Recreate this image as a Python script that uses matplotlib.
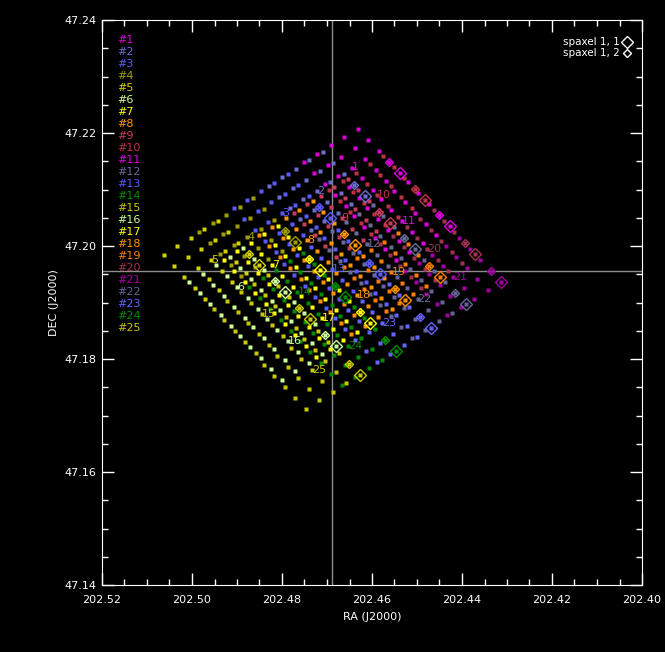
import matplotlib
matplotlib.use('Agg')
import matplotlib.pyplot as plt
from matplotlib.ticker import MultipleLocator, FormatStrFormatter
import numpy as np

# spaxel 1,1 position of each raster pointing #1..#25
ra11 = [202.4538, 202.4616, 202.4694, 202.4771, 202.4850,
        202.4793, 202.4716, 202.4638, 202.4561, 202.4482,
        202.4427, 202.4505, 202.4583, 202.4659, 202.4738,
        202.4681, 202.4604, 202.4526, 202.4450, 202.4370,
        202.4313, 202.4392, 202.4470, 202.4547, 202.4627]
dec11 = [47.2130, 47.2089, 47.2049, 47.2007, 47.1967,
         47.1918, 47.1958, 47.2001, 47.2041, 47.2082,
         47.2035, 47.1994, 47.1951, 47.1910, 47.1870,
         47.1823, 47.1863, 47.1904, 47.1945, 47.1985,
         47.1937, 47.1897, 47.1854, 47.1814, 47.1772]

# 5x5 spaxel footprint, offsets from spaxel 1,1 (deg), rows = spaxel i, cols = spaxel j
spax_dra = [[0.00000, 0.00233, 0.00467, 0.00700, 0.00933],
            [0.00300, 0.00533, 0.00767, 0.01000, 0.01233],
            [0.00600, 0.00833, 0.01067, 0.01300, 0.01533],
            [0.00900, 0.01133, 0.01367, 0.01600, 0.01833],
            [0.01200, 0.01433, 0.01667, 0.01900, 0.02133]]
spax_ddec = [[0.00000, 0.00195, 0.00389, 0.00584, 0.00779],
             [-0.00150, 0.00045, 0.00239, 0.00434, 0.00629],
             [-0.00300, -0.00105, 0.00089, 0.00284, 0.00479],
             [-0.00450, -0.00255, -0.00061, 0.00134, 0.00329],
             [-0.00600, -0.00405, -0.00211, -0.00016, 0.00179]]

colors = ['#dd00dd', '#6e6ed2', '#5a5aff', '#a0a000', '#d2d200',
          '#d2ff96', '#ffff00', '#ff9600', '#c83c5a', '#be3246',
          '#e100e1', '#6a6a9a', '#5a5aff', '#008c00', '#c8c800',
          '#c8ff96', '#ffff00', '#ff9000', '#ff7d00', '#a03250',
          '#a000a0', '#64649a', '#6464ff', '#008c00', '#c8c800']

ra_cross = 202.4689
dec_cross = 47.1955

W, H = 665, 652
fig = plt.figure(figsize=(W / 100, H / 100), dpi=100, facecolor='black')
ax = fig.add_axes([102 / W, 1 - 585 / H, 540 / W, 565 / H], facecolor='black')

dra = np.array(spax_dra)
ddec = np.array(spax_ddec)
for k in range(len(ra11)):
    c = colors[k]
    px = ra11[k] + dra
    py = dec11[k] + ddec
    ax.plot(px.ravel(), py.ravel(), ls='none', marker='s', ms=2.5,
            mec='none', mfc=c, zorder=2)
    # spaxel 1,1 (big) and 1,2 (small) diamonds
    ax.plot(px[0, 0], py[0, 0], ls='none', marker='D', ms=6.6, mfc='none',
            mec=c, mew=1.0, zorder=3)
    ax.plot(px[0, 1], py[0, 1], ls='none', marker='D', ms=3.6, mfc='none',
            mec=c, mew=1.0, zorder=3)
    ax.text(px.mean(), py.mean(), str(k + 1), color=c, fontsize=8,
            ha='left', va='center', zorder=4)

ax.axvline(ra_cross, color='#8c8c8c', lw=1, zorder=1)
ax.axhline(dec_cross, color='#8c8c8c', lw=1, zorder=1)

ax.set_xlim(202.52, 202.40)
ax.set_ylim(47.14, 47.24)
ax.xaxis.set_major_locator(MultipleLocator(0.02))
ax.xaxis.set_minor_locator(MultipleLocator(0.005))
ax.yaxis.set_major_locator(MultipleLocator(0.02))
ax.yaxis.set_minor_locator(MultipleLocator(0.005))
ax.xaxis.set_major_formatter(FormatStrFormatter('%.2f'))
ax.yaxis.set_major_formatter(FormatStrFormatter('%.2f'))
ax.tick_params(which='both', direction='in', colors='white', top=True, right=True,
               labelsize=8, width=1)
ax.tick_params(which='major', length=8.5)
ax.tick_params(which='minor', length=4.5)
ax.tick_params(axis='x', which='major', pad=7)
ax.tick_params(axis='y', which='major', pad=4)
for s in ax.spines.values():
    s.set_color('white')
ax.set_xlabel('RA (J2000)', color='white', fontsize=8, labelpad=5)
ax.set_ylabel('DEC (J2000)', color='white', fontsize=8, labelpad=4)

# colour key
for k in range(len(colors)):
    fig.text(117 / W, 1 - (40 + 12 * k) / H, '#%d' % (k + 1), color=colors[k],
             fontsize=8, ha='left', va='center')

# marker key, top right
fig.text(620 / W, 1 - 41.7 / H, 'spaxel 1, 1', color='white', fontsize=7.5,
         ha='right', va='center')
fig.text(620 / W, 1 - 52.7 / H, 'spaxel 1, 2', color='white', fontsize=7.5,
         ha='right', va='center')
ax.plot([627 / W], [1 - 41.7 / H], ls='none', marker='D', ms=6.6, mfc='none',
        mec='white', mew=1.0, transform=fig.transFigure, clip_on=False)
ax.plot([627 / W], [1 - 52.7 / H], ls='none', marker='D', ms=3.6, mfc='none',
        mec='white', mew=1.0, transform=fig.transFigure, clip_on=False)

fig.savefig('out.png', dpi=100, facecolor='black')
